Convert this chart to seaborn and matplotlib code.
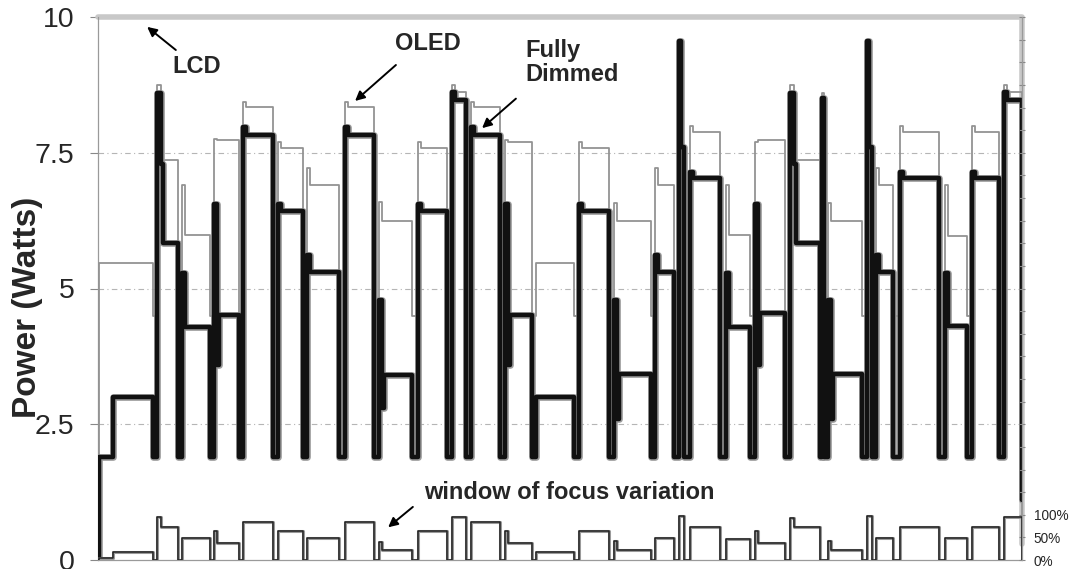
import numpy as np
import pandas as pd
import matplotlib
matplotlib.use("Agg")
import matplotlib.pyplot as plt
import seaborn as sns

# One entry per display window (time in screen samples, power in Watts,
# focus variation in %).
seg_start = [1, 15, 59, 84, 116, 145, 180, 209, 247, 281, 320, 354, 373, 407, 438, 481,
             516, 557, 581, 592, 628, 657, 692, 724, 730, 769, 778, 802, 847, 874, 906]
seg_end = [15, 55, 80, 112, 141, 175, 205, 241, 276, 314, 349, 368, 402, 434, 476, 511,
           553, 576, 586, 622, 652, 687, 722, 726, 764, 774, 795, 841, 869, 901, 923]
peak_len = [3, 3, 4, 3, 3, 3, 3, 3, 3, 3, 3, 3, 3, 3, 3, 3,
            3, 3, 2, 3, 3, 3, 4, 2, 3, 2, 3, 3, 3, 3, 3]

dim_peak = [1.9, 3.0, 8.6, 5.28, 6.56, 7.98, 6.56, 5.62, 7.98, 4.78, 6.56, 8.62, 7.98, 6.56, 3.0, 6.56,
            4.78, 5.62, 9.55, 7.15, 5.28, 6.56, 8.6, 8.5, 4.78, 9.55, 5.62, 7.15, 5.28, 7.15, 8.62]
dim_mid = [np.nan, np.nan, 7.3, np.nan, 3.6, np.nan, np.nan, np.nan, np.nan, 2.8, np.nan, np.nan,
           np.nan, 3.6, np.nan, np.nan, 2.6, np.nan, np.nan, np.nan, np.nan, 3.6, 7.3, np.nan,
           2.6, np.nan, np.nan, np.nan, np.nan, np.nan, np.nan]
dim_level = [1.9, 3.0, 5.83, 4.3, 4.52, 7.83, 6.43, 5.31, 7.83, 3.41, 6.43, 8.47, 7.83, 4.52, 3.0, 6.43,
             3.43, 5.31, 7.6, 7.03, 4.3, 4.54, 5.83, 8.5, 3.43, 7.6, 5.31, 7.03, 4.31, 7.03, 8.47]

oled_peak = [5.47, 5.47, 8.75, 6.9, 7.76, 8.44, 7.7, 7.21, 8.44, 6.6, 7.7, 8.75, 8.44, 7.73, 5.47, 7.7,
             6.57, 7.21, 9.55, 8.0, 6.9, 7.7, 8.75, 8.6, 6.57, 9.55, 7.21, 8.0, 6.9, 8.0, 8.75]
oled_level = [5.47, 5.47, 7.37, 5.98, 7.73, 8.35, 7.58, 6.9, 8.35, 6.25, 7.58, 8.62, 8.35, 7.7, 5.47, 7.58,
              6.25, 6.9, 7.6, 7.89, 5.98, 7.73, 7.37, 8.6, 6.25, 7.6, 6.9, 7.89, 5.96, 7.89, 8.62]

focus_peak = [5, 18, 96, 48, 65, 85, 64, 49, 85, 40, 64, 94, 85, 64, 18, 64,
              42, 49, 97, 72, 46, 64, 92, 0, 42, 97, 49, 74, 48, 74, 94]
focus_level = [5, 18, 72, 48, 37, 85, 64, 49, 85, 22, 64, 94, 85, 38, 18, 64,
               22, 49, 97, 73, 46, 37, 72, 0, 22, 97, 49, 74, 48, 74, 94]

# level while switching between windows, and at the end of the trace
dim_dip, oled_dip, focus_dip = 1.9, 4.5, 0.0
dim_end, oled_end, focus_end = 1.1, 0.3, 0.0
lcd_level = 10.0
lcd_end = 0.3
t_max = 924


def step_series(peak, level, dip, end_val, mid=None):
    """Build a step trace from the per-window levels."""
    t, v = [0], [0.0]
    n = len(seg_start)
    for i in range(n):
        s, e, pl = seg_start[i], seg_end[i], peak_len[i]
        t.append(s)
        v.append(peak[i])
        cur = s + pl
        if mid is not None and not np.isnan(mid[i]):
            t.append(cur)
            v.append(mid[i])
            cur += 2
        if cur < e:
            t.append(cur)
            v.append(level[i])
        if i + 1 < n and seg_start[i + 1] > e:
            t.append(e)
            v.append(dip)
    t.append(t_max)
    v.append(end_val)
    return pd.DataFrame({"t": t, "v": v})


dim_df = step_series(dim_peak, dim_level, dim_dip, dim_end, mid=dim_mid)
oled_df = step_series(oled_peak, oled_level, oled_dip, oled_end)
focus_df = step_series(focus_peak, focus_level, focus_dip, focus_end)
lcd_df = pd.DataFrame({"t": [0, t_max, t_max], "v": [lcd_level, lcd_level, lcd_end]})

sns.set_theme(style="white")
plt.rcParams["font.family"] = ["Liberation Sans", "DejaVu Sans"]

fig = plt.figure(figsize=(10.73, 5.69), dpi=100)
ax = fig.add_axes([98 / 1073, 9 / 569, 924 / 1073, 543 / 569])
ax2 = ax.twinx()

# horizontal guides
for g in [2.5, 5, 7.5]:
    ax.axhline(g, color="#b5b5b5", lw=0.8, ls=(0, (5, 3, 1, 3)), zorder=0)

# LCD (constant)
sns.lineplot(data=lcd_df, x="t", y="v", ax=ax, sort=False, estimator=None,
             color="#c8c8c8", lw=4, clip_on=False, zorder=2)
# OLED
sns.lineplot(data=oled_df, x="t", y="v", ax=ax, sort=False, estimator=None,
             drawstyle="steps-post", color="#939393", lw=1.3, zorder=3)
# Fully dimmed (gray halo + black)
sns.lineplot(data=dim_df, x="t", y="v", ax=ax, sort=False, estimator=None,
             drawstyle="steps-post", color="#9a9a9a", lw=4.8, zorder=4,
             solid_joinstyle="round")
sns.lineplot(data=dim_df, x="t", y="v", ax=ax, sort=False, estimator=None,
             drawstyle="steps-post", color="#111111", lw=3.2, zorder=5,
             solid_joinstyle="round")
# window of focus variation (right axis, %)
sns.lineplot(data=focus_df, x="t", y="v", ax=ax2, sort=False, estimator=None,
             drawstyle="steps-post", color="#9a9a9a", lw=2.2, zorder=3)
sns.lineplot(data=focus_df, x="t", y="v", ax=ax2, sort=False, estimator=None,
             drawstyle="steps-post", color="#222222", lw=1.1, zorder=4)

ax.set_xlim(0, t_max)
ax.set_ylim(0, 10)
ax.set_yticks([0, 2.5, 5, 7.5, 10])
ax.set_yticklabels(["0", "2.5", "5", "7.5", "10"])
ax.set_xticks([])
ax.set_xlabel("")
ax.set_ylabel("")
ax.tick_params(axis="y", left=True, length=6, width=0.8, color="#888888",
               labelsize=20.5, pad=11)
for side in ["top", "right"]:
    ax.spines[side].set_visible(False)
for side in ["left", "bottom"]:
    ax.spines[side].set_color("#9a9a9a")
    ax.spines[side].set_linewidth(0.9)
    ax.spines[side].set_linestyle((0, (1, 1)))

ax2.set_ylim(0, 1200)
pct_ticks = np.arange(0, 1201, 50)
ax2.set_yticks(pct_ticks)
ax2.set_yticklabels([f"{p}%" if p <= 100 else "" for p in pct_ticks])
ax2.set_ylabel("")
ax2.tick_params(axis="y", right=True, length=5, width=0.8, direction="inout",
                color="#888888", labelsize=9.8, pad=6)
for side in ["top", "left", "bottom"]:
    ax2.spines[side].set_visible(False)
ax2.spines["right"].set_color("#9a9a9a")
ax2.spines["right"].set_linewidth(0.9)
ax2.spines["right"].set_linestyle((0, (1, 1)))

fig.text(0.026, 0.459, "Power (Watts)", rotation=90, ha="center", va="center",
         fontsize=24, fontweight="bold")

arrow = dict(arrowstyle="-|>", color="black", lw=1.4, mutation_scale=14)
ax.text(99, 9.08, "LCD", ha="center", va="center", fontsize=17, fontweight="bold")
ax.annotate("", xy=(47, 9.85), xytext=(80, 9.36), arrowprops=arrow)
ax.text(330, 9.52, "OLED", ha="center", va="center", fontsize=17, fontweight="bold")
ax.annotate("", xy=(255, 8.42), xytext=(300, 9.15), arrowprops=arrow)
ax.text(427, 9.17, "Fully\nDimmed", ha="left", va="center", fontsize=17,
        fontweight="bold", linespacing=1.05)
ax.annotate("", xy=(382, 7.92), xytext=(420, 8.53), arrowprops=arrow)
ax.text(471, 1.25, "window of focus variation", ha="center", va="center",
        fontsize=17, fontweight="bold")
ax.annotate("", xy=(288, 0.57), xytext=(317, 1.01), arrowprops=arrow)

fig.savefig("out.png", dpi=100)
